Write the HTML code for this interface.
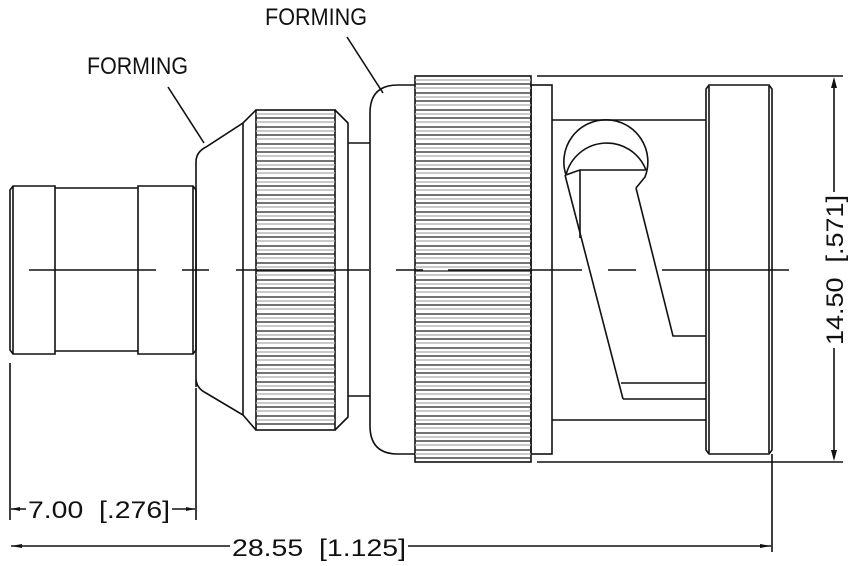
<!DOCTYPE html>
<html><head><meta charset="utf-8"><style>html,body{margin:0;padding:0;background:#fff}svg{display:block}text{white-space:pre}</style></head>
<body>
<svg width="852" height="566" viewBox="0 0 852 566" xmlns="http://www.w3.org/2000/svg" font-family="Liberation Sans, sans-serif">
<g fill="none" stroke="#111" stroke-width="1.6">
<path d="M13,186 L55,186 L55,354 L13,354 L10,350 L10,190 Z"/>
<line x1="13" y1="186" x2="13" y2="354"/>
<path d="M55,188 L138,188 M55,351 L138,351"/>
<path d="M138,186 L193,186 L196,190 L196,350 L193,354 L138,354 Z"/>
<line x1="193" y1="186" x2="193" y2="354"/>
<path d="M196,387 L196,162 Q196,152 206,147 L243,123 L256,110 M196,378 Q196,388 206,393 L243,415 L256,430"/>
<line x1="243" y1="123" x2="243" y2="415"/>
<rect x="256" y="110" width="79" height="320"/>
<path d="M335,110 L348,123 L348,417 L335,430"/>
<path d="M348,143 L370,143 M348,396 L370,396"/>
<path d="M415,85 L398,85 Q370,85 370,113 L370,426 Q370,454 398,454 L415,454"/>
<rect x="415" y="76" width="116" height="386"/>
<rect x="531" y="85" width="21" height="369"/>
<path d="M552,120 L706,120 M552,420 L706,420"/>
<path d="M709,85 L769,85 L772,89 L772,450 L769,454 L709,454 L706,450 L706,89 Z"/>
<line x1="709" y1="86" x2="709" y2="453"/>
<line x1="769" y1="86" x2="769" y2="453"/>
<path d="M566,175 A42,42 0 1 1 645,177 L636,188"/>
<path d="M566,175 A42,42 0 0 1 646,170"/>
<path d="M566,175 Q574,172 580,170 L646,170"/>
<line x1="580" y1="170" x2="580" y2="238"/>
<line x1="565" y1="175" x2="623" y2="399"/>
<path d="M636,188 L673,336 L706,336"/>
<path d="M621,383 L706,383 M623,399 L706,399"/>
<line x1="168" y1="87" x2="204" y2="143"/>
<line x1="347" y1="37" x2="383" y2="93"/>
<path d="M29,270 H156 M182,270 H209 M236,270 H369 M396,270 H423 M448,270 H582 M608,270 H636 M662,270 H789"/>
<path d="M10,363 V520 M196,388 V520 M772,454 V552"/>
<path d="M537,76 H843 M537,462 H843"/>
<path d="M834,80 V192 M834,348 V458"/>
<path d="M11,509 H26 M172,509 H195"/>
<path d="M11,546 H230 M408,546 H771"/>
</g>
<g fill="#111">
<path d="M834,77 L831,88 L837,88 Z M834,461 L831,450 L837,450 Z"/>
<path d="M11,509 L20,507 L20,511 Z M195,509 L186,507 L186,511 Z"/>
<path d="M11,546 L22,544 L22,548 Z M771,546 L760,544 L760,548 Z"/>
</g>
<g font-size="24" fill="#111">
<text x="87" y="74" textLength="101" lengthAdjust="spacingAndGlyphs">FORMING</text>
<text x="265" y="25" textLength="102" lengthAdjust="spacingAndGlyphs">FORMING</text>
<text x="28" y="518" textLength="142" lengthAdjust="spacingAndGlyphs">7.00  [.276]</text>
<text x="232" y="556" textLength="174" lengthAdjust="spacingAndGlyphs">28.55  [1.125]</text>
<text transform="translate(843,270) rotate(-90)" text-anchor="middle" textLength="150" lengthAdjust="spacingAndGlyphs">14.50  [.571]</text>
</g>
<g stroke-width="1.2">
<path stroke="#222" d="M256,118H335M256,127H335M256,135H335M256,144H335M256,152H335M256,161H335M256,169H335M256,178H335M256,186H335M256,195H335M256,203H335M256,212H335M256,220H335M256,229H335M256,237H335M256,246H335M256,254H335M256,263H335M256,271H335M256,280H335M256,288H335M256,297H335M256,305H335M256,314H335M256,322H335M256,331H335M256,339H335M256,348H335M256,356H335M256,365H335M256,373H335M256,382H335M256,390H335M256,399H335M256,407H335M256,416H335M256,424H335"/>
<path stroke="#aaa" d="M256,114H335M256,122H335M256,131H335M256,139H335M256,148H335M256,156H335M256,165H335M256,173H335M256,182H335M256,190H335M256,199H335M256,207H335M256,216H335M256,224H335M256,233H335M256,241H335M256,250H335M256,258H335M256,267H335M256,275H335M256,284H335M256,292H335M256,301H335M256,309H335M256,318H335M256,326H335M256,335H335M256,343H335M256,352H335M256,360H335M256,369H335M256,377H335M256,386H335M256,394H335M256,403H335M256,411H335M256,420H335"/>
<path stroke="#222" d="M415,84H531M415,93H531M415,101H531M415,110H531M415,118H531M415,127H531M415,135H531M415,144H531M415,152H531M415,161H531M415,169H531M415,178H531M415,186H531M415,195H531M415,203H531M415,212H531M415,220H531M415,229H531M415,237H531M415,246H531M415,254H531M415,263H531M415,271H531M415,280H531M415,288H531M415,297H531M415,305H531M415,314H531M415,322H531M415,331H531M415,339H531M415,348H531M415,356H531M415,365H531M415,373H531M415,382H531M415,390H531M415,399H531M415,407H531M415,416H531M415,424H531M415,433H531M415,441H531M415,450H531M415,458H531"/>
<path stroke="#aaa" d="M415,80H531M415,88H531M415,97H531M415,105H531M415,114H531M415,122H531M415,131H531M415,139H531M415,148H531M415,156H531M415,165H531M415,173H531M415,182H531M415,190H531M415,199H531M415,207H531M415,216H531M415,224H531M415,233H531M415,241H531M415,250H531M415,258H531M415,267H531M415,275H531M415,284H531M415,292H531M415,301H531M415,309H531M415,318H531M415,326H531M415,335H531M415,343H531M415,352H531M415,360H531M415,369H531M415,377H531M415,386H531M415,394H531M415,403H531M415,411H531M415,420H531M415,428H531M415,437H531M415,445H531M415,454H531"/>
</g>
</svg>
</body></html>
